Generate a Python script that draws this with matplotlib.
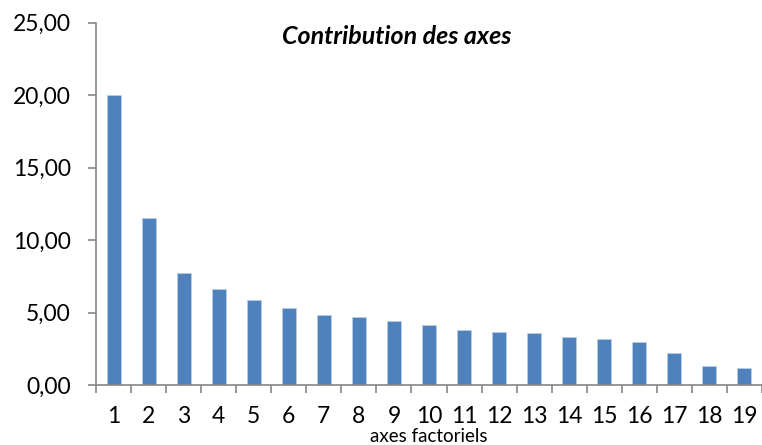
import numpy as np
import matplotlib
matplotlib.use("Agg")
import matplotlib.pyplot as plt

axes_labels = [str(i) for i in range(1, 20)]
contribution = [20.03, 11.55, 7.75, 6.65, 5.87, 5.31, 4.81, 4.69, 4.44, 4.14,
                3.77, 3.66, 3.59, 3.33, 3.15, 2.95, 2.21, 1.29, 1.17]
y_ticks = [0, 5, 10, 15, 20, 25]

plt.rcParams["font.family"] = ["Lato", "DejaVu Sans"]

fig = plt.figure(figsize=(7.62, 4.45), dpi=100)
ax = fig.add_axes([96 / 762, 1 - 385 / 445, 1 - 96 / 762, (385 - 22.7) / 445])

x = np.arange(1, len(contribution) + 1)
ax.bar(x, contribution, width=0.4, color="#4F81BD", edgecolor="#B9CDE5", linewidth=0.6, zorder=2)

ax.set_xlim(0.5, 19.44)
ax.set_ylim(0, 25)

grey = "#868686"
for side in ["top", "right"]:
    ax.spines[side].set_visible(False)
for side in ["left", "bottom"]:
    ax.spines[side].set_color(grey)
    ax.spines[side].set_linewidth(1.2)

ax.set_yticks(y_ticks)
ax.set_yticklabels([f"{v:.2f}".replace(".", ",") for v in y_ticks])
ax.tick_params(axis="y", length=6, width=1.2, color=grey, pad=12, labelsize=16.5)

# category boundaries carry the ticks, labels sit at the centres
ax.set_xticks(np.arange(0.5, 20, 1.0))
ax.set_xticklabels([])
ax.set_xticks(x, minor=True)
ax.set_xticklabels(axes_labels, minor=True)
ax.tick_params(axis="x", which="major", length=6, width=1.2, color=grey)
ax.tick_params(axis="x", which="minor", length=0, pad=15, labelsize=16.5)

fig.text(429 / 762, 0.5 / 445, "axes factoriels", ha="center", va="bottom", fontsize=13.5)
fig.text(397 / 762, 1 - 37 / 445, "Contribution des axes", ha="center", va="center",
         fontsize=18, fontweight="bold", fontstyle="italic")

fig.savefig("out.png", dpi=100)
plt.close(fig)
